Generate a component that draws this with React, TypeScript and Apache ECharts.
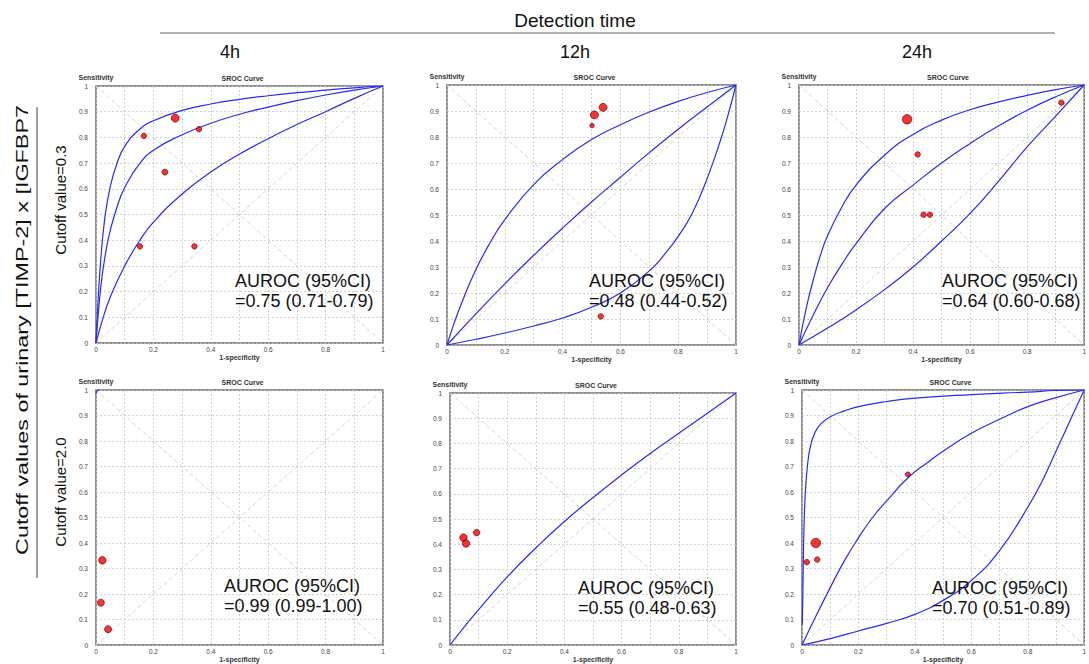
import React, { useEffect, useRef } from 'react';
import * as echarts from 'echarts';

// ---------- texts ----------
const headerTitle = 'Detection time';
const timeLabels = ['4h', '12h', '24h'];
const rowTitle = 'Cutoff values of urinary [TIMP-2] x [IGFBP7';
const cutoffLabels = ['Cutoff value=0.3', 'Cutoff value=2.0'];
const panelTitle = 'SROC Curve';
const yName = 'Sensitivity';
const xName = '1-specificity';
const aurocHeader = 'AUROC (95%CI)';
const aurocValues = [
  '=0.75 (0.71-0.79)',
  '=0.48 (0.44-0.52)',
  '=0.64 (0.60-0.68)',
  '=0.99 (0.99-1.00)',
  '=0.55 (0.48-0.63)',
  '=0.70 (0.51-0.89)',
];

// ---------- data: [1-specificity, sensitivity] ----------
const diagonalUp = [[0, 0], [1, 1]];
const diagonalDown = [[0, 1], [1, 0]];

// 4h, cutoff 0.3
const p1Upper = [[0, 0], [0.005, 0.12], [0.015, 0.3], [0.03, 0.48], [0.05, 0.61], [0.075, 0.705], [0.1, 0.765], [0.15, 0.83], [0.2, 0.865], [0.3, 0.905], [0.4, 0.93], [0.5, 0.948], [0.6, 0.962], [0.7, 0.974], [0.8, 0.984], [0.9, 0.993], [1, 1]];
const p1Mid = [[0, 0], [0.01, 0.14], [0.02, 0.25], [0.035, 0.36], [0.05, 0.44], [0.075, 0.535], [0.1, 0.605], [0.15, 0.695], [0.2, 0.75], [0.3, 0.81], [0.4, 0.855], [0.5, 0.89], [0.6, 0.918], [0.7, 0.943], [0.8, 0.965], [0.9, 0.984], [1, 1]];
const p1Lower = [[0, 0], [0.02, 0.08], [0.05, 0.18], [0.1, 0.3], [0.15, 0.395], [0.2, 0.47], [0.3, 0.58], [0.4, 0.665], [0.5, 0.735], [0.6, 0.795], [0.7, 0.85], [0.8, 0.9], [0.9, 0.952], [1, 1]];
const p1Studies = [[0.167, 0.806, 5.5], [0.276, 0.875, 8], [0.359, 0.832, 5.5], [0.24, 0.665, 6], [0.153, 0.376, 5.5], [0.343, 0.376, 5.5]];

// 12h, cutoff 0.3
const p2Upper = [[0, 0], [0.025, 0.085], [0.05, 0.16], [0.1, 0.29], [0.15, 0.395], [0.2, 0.482], [0.3, 0.617], [0.4, 0.713], [0.5, 0.79], [0.6, 0.847], [0.7, 0.896], [0.8, 0.937], [0.9, 0.971], [1, 1]];
const p2Mid = [[0, 0], [0.1, 0.12], [0.2, 0.235], [0.3, 0.345], [0.4, 0.45], [0.5, 0.55], [0.6, 0.645], [0.7, 0.74], [0.8, 0.83], [0.9, 0.915], [1, 1]];
const p2Lower = [[0, 0], [0.1, 0.022], [0.2, 0.046], [0.3, 0.073], [0.4, 0.104], [0.5, 0.145], [0.6, 0.2], [0.7, 0.285], [0.75, 0.345], [0.8, 0.418], [0.85, 0.51], [0.9, 0.64], [0.95, 0.8], [0.975, 0.895], [1, 1]];
const p2Studies = [[0.54, 0.914, 8], [0.51, 0.885, 8], [0.502, 0.844, 4.5], [0.532, 0.11, 5.5]];

// 24h, cutoff 0.3
const p3Upper = [[0, 0], [0.025, 0.14], [0.05, 0.25], [0.075, 0.345], [0.1, 0.42], [0.15, 0.53], [0.2, 0.615], [0.3, 0.73], [0.4, 0.81], [0.5, 0.865], [0.6, 0.905], [0.7, 0.935], [0.8, 0.96], [0.9, 0.982], [1, 1]];
const p3Mid = [[0, 0], [0.05, 0.115], [0.1, 0.22], [0.15, 0.31], [0.2, 0.39], [0.3, 0.525], [0.4, 0.615], [0.5, 0.7], [0.6, 0.775], [0.7, 0.843], [0.8, 0.903], [0.9, 0.955], [1, 1]];
const p3Lower = [[0, 0], [0.1, 0.065], [0.2, 0.135], [0.3, 0.213], [0.4, 0.3], [0.5, 0.4], [0.6, 0.506], [0.7, 0.63], [0.8, 0.762], [0.9, 0.88], [1, 1]];
const p3Studies = [[0.379, 0.868, 9.5], [0.416, 0.733, 5.5], [0.437, 0.501, 5.5], [0.459, 0.501, 5.5], [0.92, 0.932, 5.5]];

// 4h, cutoff 2.0
const p4Curve = [[0, 0.985], [0.003, 0.997], [0.01, 1]];
const p4Studies = [[0.022, 0.332, 7.5], [0.017, 0.166, 7], [0.042, 0.062, 7]];

// 12h, cutoff 2.0
const p5Curve = [[0, 0], [0.05, 0.072], [0.1, 0.14], [0.2, 0.27], [0.3, 0.385], [0.4, 0.49], [0.5, 0.585], [0.6, 0.675], [0.7, 0.76], [0.8, 0.84], [0.9, 0.92], [1, 1]];
const p5Studies = [[0.047, 0.426, 7.5], [0.056, 0.403, 7.5], [0.093, 0.446, 6.5]];

// 24h, cutoff 2.0
const p6Upper = [[0.001, 0.08], [0.003, 0.2], [0.005, 0.35], [0.008, 0.5], [0.013, 0.62], [0.02, 0.71], [0.03, 0.78], [0.045, 0.83], [0.065, 0.865], [0.1, 0.895], [0.15, 0.918], [0.2, 0.935], [0.3, 0.955], [0.4, 0.968], [0.6, 0.982], [0.8, 0.992], [0.9, 0.998], [1, 1]];
const p6Mid = [[0, 0], [0.05, 0.115], [0.1, 0.225], [0.15, 0.33], [0.2, 0.42], [0.25, 0.5], [0.3, 0.565], [0.375, 0.655], [0.45, 0.72], [0.5, 0.76], [0.6, 0.83], [0.7, 0.885], [0.8, 0.935], [0.9, 0.97], [1, 1]];
const p6Lower = [[0, 0], [0.1, 0.025], [0.2, 0.055], [0.3, 0.085], [0.4, 0.12], [0.5, 0.175], [0.6, 0.253], [0.7, 0.37], [0.8, 0.54], [0.85, 0.64], [0.9, 0.76], [0.95, 0.88], [1, 1]];
const p6Studies = [[0.049, 0.4, 9.5], [0.017, 0.325, 5.5], [0.054, 0.335, 5.5], [0.375, 0.669, 5]];

const panelCurves = [
  [p1Upper, p1Mid, p1Lower],
  [p2Upper, p2Mid, p2Lower],
  [p3Upper, p3Mid, p3Lower],
  [p4Curve],
  [p5Curve],
  [p6Upper, p6Mid, p6Lower],
];
const panelStudies = [p1Studies, p2Studies, p3Studies, p4Studies, p5Studies, p6Studies];

// ---------- layout ----------
const W = 1089;
const H = 664;
const grids = [
  { left: 96, top: 86, width: 287, height: 257 },
  { left: 447, top: 85, width: 289, height: 260 },
  { left: 799, top: 85, width: 292, height: 260 },
  { left: 96, top: 390, width: 287, height: 258 },
  { left: 450, top: 393, width: 286, height: 257 },
  { left: 802, top: 390, width: 291, height: 261 },
];
const aurocPos = [[235, 281], [589, 281], [942, 281], [224, 586], [578, 588], [932, 588]];
const timeX = [230, 575, 917];
const cutoffY = [200, 492];

const FONT = '"Liberation Sans", Arial, sans-serif';
const NARROW = '"Liberation Sans Narrow", "Liberation Sans", Arial, sans-serif';
const BLUE = '#2a2af0';

function tickFmt(showAll: boolean) {
  return (v: number) => {
    const t = Math.round(v * 10);
    if (!showAll && t % 2 !== 0) return '';
    return String(t / 10);
  };
}

function buildOption() {
  const gridOpts = grids.map((g) => ({
    ...g,
    show: true,
    borderColor: '#6e6e6e',
    borderWidth: 1.5,
    backgroundColor: 'transparent',
    containLabel: false,
  }));
  const splitLine = { show: true, lineStyle: { color: '#c4c4c4', type: [2, 2], width: 0.8 } };
  const xAxes = grids.map((_, i) => ({
    type: 'value',
    gridIndex: i,
    min: 0,
    max: 1,
    interval: 0.1,
    axisLine: { show: false },
    axisTick: { show: false },
    splitLine,
    axisLabel: { fontSize: 6.5, color: '#444', fontFamily: FONT, margin: 3, formatter: tickFmt(false) },
    name: xName,
    nameLocation: 'middle',
    nameGap: 11,
    nameTextStyle: { fontSize: 7, fontWeight: 'bold', color: '#333', fontFamily: FONT },
  }));
  const yAxes = grids.map((_, i) => ({
    type: 'value',
    gridIndex: i,
    min: 0,
    max: 1,
    interval: 0.1,
    axisLine: { show: false },
    axisTick: { show: false },
    splitLine,
    axisLabel: { fontSize: 6.5, color: '#444', fontFamily: FONT, margin: 8, formatter: tickFmt(true) },
    name: yName,
    nameLocation: 'end',
    nameGap: 5,
    nameTextStyle: { fontSize: 7, fontWeight: 'bold', color: '#333', fontFamily: FONT },
  }));

  const series: any[] = [];
  grids.forEach((_, i) => {
    [diagonalUp, diagonalDown].forEach((d) => {
      series.push({
        type: 'line',
        xAxisIndex: i,
        yAxisIndex: i,
        data: d,
        showSymbol: false,
        silent: true,
        lineStyle: { color: '#cfcfcf', width: 0.9, type: [4, 3] },
        z: 1,
      });
    });
    panelCurves[i].forEach((c) => {
      series.push({
        type: 'line',
        xAxisIndex: i,
        yAxisIndex: i,
        data: c,
        smooth: 0.5,
        showSymbol: false,
        lineStyle: { color: BLUE, width: 1.2 },
        z: 3,
      });
    });
    series.push({
      type: 'scatter',
      xAxisIndex: i,
      yAxisIndex: i,
      data: panelStudies[i],
      symbol: 'circle',
      symbolSize: (v: number[]) => v[2],
      itemStyle: { color: '#f20000', borderColor: '#5a0000', borderWidth: 0.8 },
      z: 5,
    });
  });

  const graphic: any[] = [];
  graphic.push({
    type: 'text',
    x: 575,
    y: 20,
    style: { text: headerTitle, font: `19px ${NARROW}`, fill: '#111', align: 'center', verticalAlign: 'middle' },
  });
  graphic.push({
    type: 'line',
    shape: { x1: 160, y1: 33, x2: 1055, y2: 33 },
    style: { stroke: '#b0b0b0', lineWidth: 2 },
  });
  timeLabels.forEach((t, i) => {
    graphic.push({
      type: 'text',
      x: timeX[i],
      y: 52,
      style: { text: t, font: `18px ${NARROW}`, fill: '#111', align: 'center', verticalAlign: 'middle' },
    });
  });
  graphic.push({
    type: 'text',
    x: 22,
    y: 330,
    rotation: Math.PI / 2,
    scaleX: 1.46,
    style: { text: rowTitle, font: `16px ${FONT}`, fill: '#111', align: 'center', verticalAlign: 'middle' },
  });
  graphic.push({
    type: 'line',
    shape: { x1: 37, y1: 107, x2: 37, y2: 578 },
    style: { stroke: '#808080', lineWidth: 1.5 },
  });
  cutoffLabels.forEach((t, i) => {
    graphic.push({
      type: 'text',
      x: 60,
      y: cutoffY[i],
      rotation: Math.PI / 2,
      style: { text: t, font: `15px ${FONT}`, fill: '#111', align: 'center', verticalAlign: 'middle' },
    });
  });
  grids.forEach((g, i) => {
    graphic.push({
      type: 'text',
      x: g.left + g.width / 2 + 3,
      y: g.top - 8,
      style: { text: panelTitle, font: `bold 7px ${FONT}`, fill: '#333', align: 'center', verticalAlign: 'middle' },
    });
    graphic.push({
      type: 'text',
      x: aurocPos[i][0],
      y: aurocPos[i][1],
      z: 10,
      style: { text: aurocHeader, font: `18px ${FONT}`, fill: '#111', align: 'left', verticalAlign: 'middle' },
    });
    graphic.push({
      type: 'text',
      x: aurocPos[i][0],
      y: aurocPos[i][1] + 20,
      z: 10,
      style: { text: aurocValues[i], font: `18px ${FONT}`, fill: '#111', align: 'left', verticalAlign: 'middle' },
    });
  });

  return {
    animation: false,
    backgroundColor: '#ffffff',
    grid: gridOpts,
    xAxis: xAxes,
    yAxis: yAxes,
    series,
    graphic,
  };
}

export default function App() {
  const ref = useRef<HTMLDivElement>(null);
  useEffect(() => {
    if (!ref.current) return;
    const chart = echarts.init(ref.current, undefined, { renderer: 'svg' });
    chart.setOption(buildOption() as any);
    return () => chart.dispose();
  }, []);
  return <div ref={ref} style={{ position: 'absolute', left: 0, top: 0, width: W, height: H }} />;
}
